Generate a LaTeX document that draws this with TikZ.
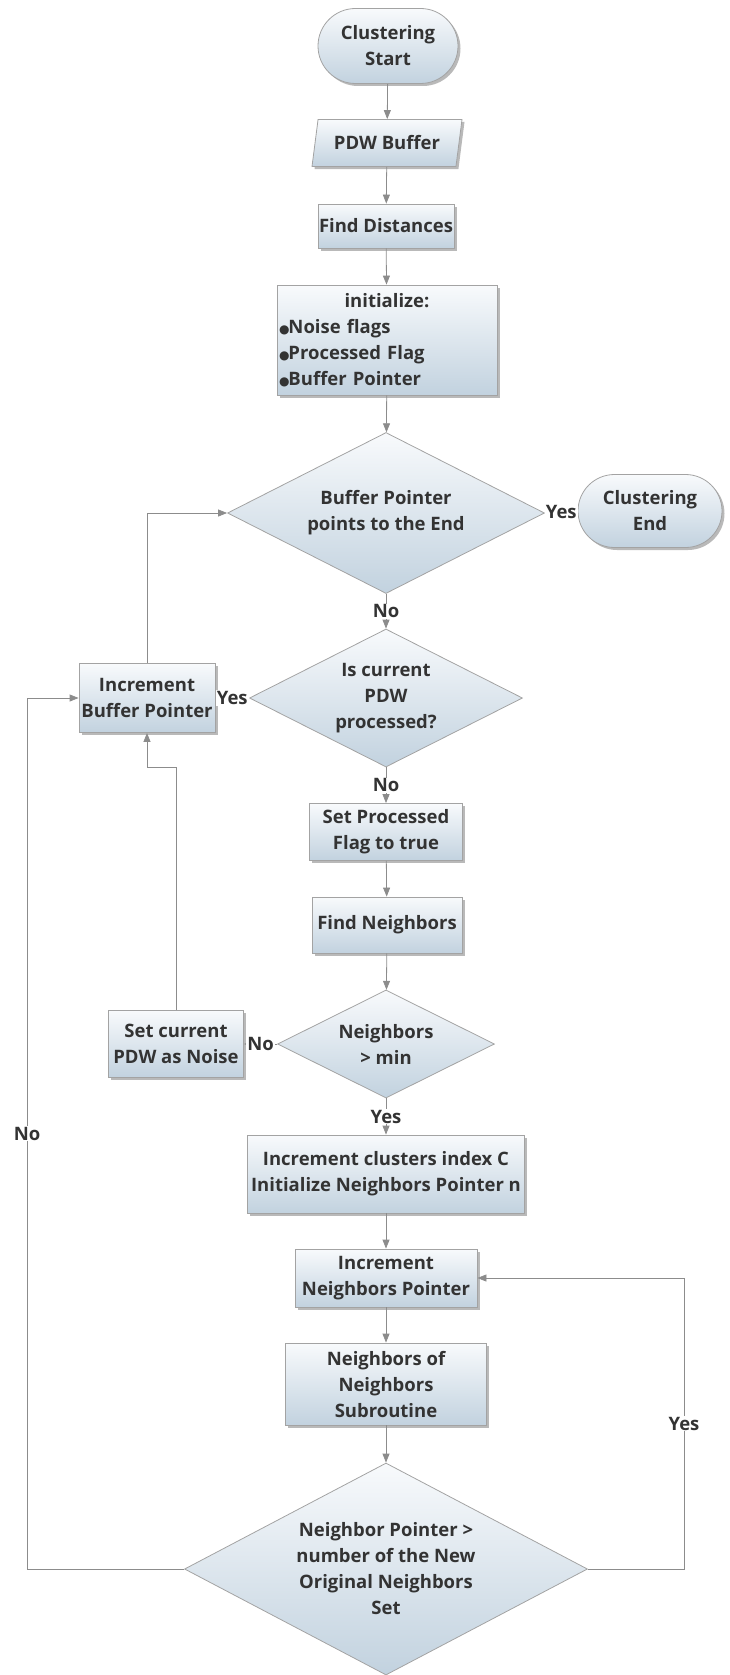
\documentclass[tikz,border=0pt]{standalone}
\usepackage{fontspec}
\setmainfont{Open Sans}
\newfontfamily\dotfont{DejaVu Sans}
\usetikzlibrary{shapes.geometric,shapes.misc,shadows,arrows.meta}
\definecolor{boxtop}{HTML}{F8FAFC}
\definecolor{boxbot}{HTML}{C2D2DF}
\definecolor{edgegray}{HTML}{A3A3A3}
\definecolor{linegray}{HTML}{8C8C8C}
\definecolor{txtgray}{HTML}{333333}
\newcommand{\bul}{{\dotfont\fontsize{12}{12}\selectfont ●}\hspace{-1pt}}

\begin{document}
\begin{tikzpicture}[x = 1pt, y = -1pt, font = \bfseries\fontsize{18.5}{26}\selectfont, text = txtgray]
\tikzstyle{baseStyle} = [draw = edgegray, line width = 0.8pt, top color = boxtop, bottom color = boxbot, inner sep = 0pt, align = center]
\tikzstyle{shadowStyle} = [drop shadow = {shadow xshift = 2.5pt, shadow yshift = -2.5pt, fill = gray, opacity = 0.55}]
\tikzstyle{boxStyle} = [baseStyle, shadowStyle, rectangle]
\tikzstyle{termStyle} = [baseStyle, shadowStyle, rounded rectangle]
\tikzstyle{ioStyle} = [baseStyle, shadowStyle, trapezium, trapezium left angle = 72, trapezium right angle = 108, trapezium stretches = true]
\tikzstyle{decStyle} = [baseStyle, diamond, aspect = 2]
\tikzstyle{flowStyle} = [draw = linegray, line width = 0.8pt, -{Triangle[length = 9pt, width = 7pt]}]
\tikzstyle{ansStyle} = [fill = white, inner sep = 1pt]
\useasboundingbox (0,0) rectangle (729,1675);
% main column
\node[termStyle, minimum width = 140, minimum height = 75] (start) at (388,46) {Clustering\\Start};
\node[ioStyle, minimum width = 150, minimum height = 47] (pdw) at (387,143) {PDW Buffer};
\node[boxStyle, minimum width = 136, minimum height = 44] (dist) at (386,226) {Find Distances};
\node[boxStyle, minimum width = 220, minimum height = 110, text width = 216, inner xsep = 2pt, align = left] (init) at (387,340) {\makebox[216pt]{initialize:}\\\bul Noise flags\\\bul Processed Flag\\\bul Buffer Pointer};
\node[decStyle, minimum width = 317, minimum height = 161] (dec1) at (386,513) {Buffer Pointer\\points to the End};
\node[termStyle, minimum width = 144, minimum height = 73] (fin) at (650,511) {Clustering\\End};
\node[decStyle, minimum width = 273, minimum height = 138] (dec2) at (386,698) {Is current\\PDW\\processed?};
\node[boxStyle, minimum width = 136, minimum height = 69] (incb) at (147,698) {Increment\\Buffer Pointer};
\node[boxStyle, minimum width = 153, minimum height = 57] (setp) at (386,832) {Set Processed\\Flag to true};
\node[boxStyle, minimum width = 150, minimum height = 56] (findn) at (387,925) {Find Neighbors};
\node[decStyle, minimum width = 217, minimum height = 108] (dec3) at (386,1044) {Neighbors\\> min};
\node[boxStyle, minimum width = 135, minimum height = 67] (noise) at (176,1044) {Set current\\PDW as Noise};
\node[boxStyle, minimum width = 277, minimum height = 78] (incc) at (386,1174) {Increment clusters index C\\Initialize Neighbors Pointer n};
\node[boxStyle, minimum width = 182, minimum height = 58] (incn) at (386,1278) {Increment\\Neighbors Pointer};
\node[boxStyle, minimum width = 201, minimum height = 82] (nn) at (386,1384) {Neighbors of\\Neighbors\\Subroutine};
\node[decStyle, minimum width = 403, minimum height = 212] (dec4) at (386,1569) {Neighbor Pointer >\\number of the New\\Original Neighbors\\Set};
% loop corners
\coordinate (nbend) at (176,767);
\coordinate (lbot) at (27,1569);
\coordinate (ltop) at (27,698);
\coordinate (rbot) at (684,1569);
\coordinate (rtop) at (684,1278);
% connectors
\draw[flowStyle] (start) -- (pdw);
\draw[flowStyle] (pdw) -- (dist);
\draw[flowStyle] (dist) -- (init);
\draw[flowStyle] (init) -- (dec1);
\draw[flowStyle] (dec1.east) -- node[ansStyle] {Yes} (fin.west);
\draw[flowStyle] (dec1.south) -- node[ansStyle] {No} (dec2.north);
\draw[flowStyle] (dec2.west) -- node[ansStyle] {Yes} (incb.east);
\draw[flowStyle] (incb.north) |- (dec1.west);
\draw[flowStyle] (dec2.south) -- node[ansStyle] {No} (setp.north);
\draw[flowStyle] (setp) -- (findn);
\draw[flowStyle] (findn) -- (dec3);
\draw[flowStyle] (dec3.west) -- node[ansStyle] {No} (noise.east);
\draw[flowStyle] (noise.north) -- (nbend) -| (incb.south);
\draw[flowStyle] (dec3.south) -- node[ansStyle] {Yes} (incc.north);
\draw[flowStyle] (incc) -- (incn);
\draw[flowStyle] (incn) -- (nn);
\draw[flowStyle] (nn) -- (dec4);
\draw[flowStyle] (dec4.west) -- (lbot) -- node[ansStyle] {No} (ltop) -- (incb.west);
\draw[flowStyle] (dec4.east) -- (rbot) -- node[ansStyle] {Yes} (rtop) -- (incn.east);
\end{tikzpicture}
\end{document}
